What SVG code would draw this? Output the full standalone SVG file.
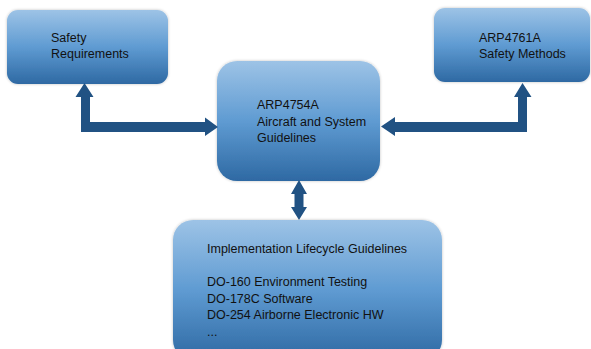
<svg xmlns="http://www.w3.org/2000/svg" width="591" height="349" viewBox="0 0 591 349">
  <defs>
    <linearGradient id="boxFill" x1="0" y1="0" x2="0" y2="1">
      <stop offset="0" stop-color="#9DC3E6"/>
      <stop offset="0.5" stop-color="#5F9BD2"/>
      <stop offset="1" stop-color="#2E69A3"/>
    </linearGradient>
    <filter id="soft" x="-10%" y="-10%" width="120%" height="120%">
      <feGaussianBlur in="SourceAlpha" stdDeviation="1.5"/>
      <feComponentTransfer><feFuncA type="linear" slope="0.25"/></feComponentTransfer>
      <feMerge><feMergeNode/><feMergeNode in="SourceGraphic"/></feMerge>
    </filter>
  </defs>
  <style>
    .box { fill: url(#boxFill); filter: url(#soft); }
    .label { font-family: "Liberation Sans", Arial, sans-serif; font-size: 12.5px; fill: #111; }
    .conn { fill: #215283; }
  </style>
  <rect width="591" height="349" fill="#FFFFFF"/>

  <g id="safety-requirements">
    <rect class="box" x="7" y="10" width="161" height="74" rx="11"/>
    <text class="label" x="51" y="42">Safety</text>
    <text class="label" x="51" y="58">Requirements</text>
  </g>

  <g id="arp4761a">
    <rect class="box" x="434" y="8" width="156" height="74" rx="11"/>
    <text class="label" x="479" y="42">ARP4761A</text>
    <text class="label" x="479" y="58">Safety Methods</text>
  </g>

  <g id="arp4754a">
    <rect class="box" x="217" y="61" width="163" height="120" rx="20"/>
    <text class="label" x="257" y="109">ARP4754A</text>
    <text class="label" x="257" y="126">Aircraft and System</text>
    <text class="label" x="257" y="142">Guidelines</text>
  </g>

  <g id="implementation">
    <rect class="box" x="173" y="220" width="269" height="140" rx="20"/>
    <text class="label" x="207" y="253">Implementation Lifecycle Guidelines</text>
    <text class="label" x="207" y="286">DO-160 Environment Testing</text>
    <text class="label" x="207" y="303">DO-178C Software</text>
    <text class="label" x="207" y="319">DO-254 Airborne Electronic HW</text>
    <text class="label" x="207" y="336">...</text>
  </g>

  <g id="connectors">
    <!-- elbow arrow: Safety Requirements <-> ARP4754A -->
    <path class="conn" d="M84.5,83 L93.5,97 L90,97 L90,122 L205,122 L205,117.5 L218,127 L205,136 L205,132 L81,132 L81,97 L75.5,97 Z"/>
    <!-- elbow arrow: ARP4761A <-> ARP4754A -->
    <path class="conn" d="M522.5,83 L531.5,97 L527,97 L527,132 L395,132 L395,136 L381,126.5 L395,117 L395,122 L518,122 L518,97 L514,97 Z"/>
    <!-- double arrow: ARP4754A <-> Implementation -->
    <path class="conn" d="M299,180 L307,194 L303.5,194 L303.5,207 L307,207 L299,220 L291,207 L294.5,207 L294.5,194 L291,194 Z"/>
  </g>
</svg>
